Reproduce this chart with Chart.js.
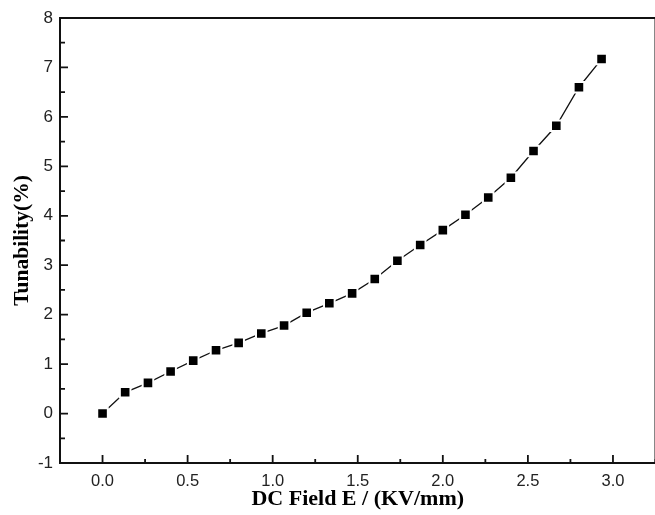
<!DOCTYPE html>
<html>
<head>
<meta charset="utf-8">
<script src="https://cdn.jsdelivr.net/npm/chart.js@4"></script>
<style>
  html, body { margin: 0; padding: 0; overflow: hidden; background: #fff; }
  #wrap { width: 665px; height: 515px; }
</style>
</head>
<body>
<div id="wrap"><canvas id="myChart" width="665" height="515"></canvas></div>
<script>
// DC field (KV/mm) and tunability (%)
var field = [0, 0.133, 0.267, 0.4, 0.533, 0.667, 0.8, 0.933, 1.067, 1.2, 1.333, 1.467,
             1.6, 1.733, 1.867, 2.0, 2.133, 2.267, 2.4, 2.533, 2.667, 2.8, 2.933];
var tunability = [0, 0.43, 0.62, 0.85, 1.07, 1.28, 1.43, 1.62, 1.78, 2.04, 2.23, 2.43,
                  2.72, 3.09, 3.41, 3.71, 4.02, 4.37, 4.77, 5.31, 5.82, 6.60, 7.17];
var xTicks = [0, 0.5, 1.0, 1.5, 2.0, 2.5, 3.0];
var yTicks = [-1, 0, 1, 2, 3, 4, 5, 6, 7, 8];

var points = field.map(function (x, i) { return { x: x, y: tunability[i] }; });

// inside tick marks (major + minor) and the frame on top/right
var frameTicks = {
    id: 'frameTicks',
    afterDraw: function (chart) {
        var c = chart.ctx, a = chart.chartArea;
        var xs = chart.scales.x, ys = chart.scales.y;
        c.save();
        c.strokeStyle = '#111';
        c.lineWidth = 2;
        c.beginPath();
        c.moveTo(a.left - 1, a.top);
        c.lineTo(a.right, a.top);
        c.lineTo(a.right, a.bottom);
        c.stroke();
        c.lineWidth = 1.8;
        c.beginPath();
        for (var v = -0.25; v <= 3.25; v += 0.25) {
            var px = xs.getPixelForValue(v);
            var len = (Math.abs(v * 2 - Math.round(v * 2)) < 1e-6) ? 8 : 4;
            c.moveTo(px, a.bottom);
            c.lineTo(px, a.bottom - len);
        }
        for (var w = -1; w <= 8; w += 0.5) {
            var py = ys.getPixelForValue(w);
            var l2 = (Math.abs(w - Math.round(w)) < 1e-6) ? 8 : 5;
            c.moveTo(a.left, py);
            c.lineTo(a.left + l2, py);
        }
        c.stroke();
        c.restore();
    }
};

var ctx = document.getElementById('myChart').getContext('2d');
var myChart = new Chart(ctx, {
    type: 'line',
    data: {
        datasets: [{
            data: points,
            borderColor: '#111',
            borderWidth: 1.3,
            backgroundColor: '#000',
            pointStyle: 'rect',
            pointRadius: 7.5,
            pointBackgroundColor: '#000',
            pointBorderColor: '#fff',
            pointBorderWidth: 2,
            tension: 0,
            fill: false
        }]
    },
    options: {
        responsive: false,
        animation: false,
        layout: { padding: { top: 18, right: 7, left: 0, bottom: 0 } },
        plugins: {
            legend: { display: false },
            tooltip: { enabled: false }
        },
        scales: {
            x: {
                type: 'linear',
                min: -0.25,
                max: 3.25,
                afterBuildTicks: function (s) { s.ticks = xTicks.map(function (v) { return { value: v }; }); },
                afterFit: function (s) { s.height = 52; },
                grid: { drawOnChartArea: false, drawTicks: false },
                border: { display: true, color: '#111', width: 2 },
                ticks: {
                    padding: 9,
                    color: '#222',
                    font: { family: 'Liberation Sans', size: 16.5 },
                    callback: function (v) { return Number(v).toFixed(1); }
                },
                title: {
                    display: true,
                    text: 'DC Field E / (KV/mm)',
                    color: '#000',
                    padding: { top: 2, bottom: 2 },
                    font: { family: 'Liberation Serif', size: 22, weight: 'bold' }
                }
            },
            y: {
                type: 'linear',
                min: -1,
                max: 8,
                afterBuildTicks: function (s) { s.ticks = yTicks.map(function (v) { return { value: v }; }); },
                afterFit: function (s) { s.width = 60; },
                grid: { drawOnChartArea: false, drawTicks: false },
                border: { display: true, color: '#111', width: 2 },
                ticks: {
                    padding: 7,
                    color: '#222',
                    font: { family: 'Liberation Sans', size: 17 },
                    callback: function (v) { return String(v); }
                },
                title: {
                    display: true,
                    text: 'Tunability(%)',
                    color: '#000',
                    padding: { top: 10, bottom: 10 },
                    font: { family: 'Liberation Serif', size: 21.5, weight: 'bold' }
                }
            }
        }
    },
    plugins: [frameTicks]
});
</script>
</body>
</html>
